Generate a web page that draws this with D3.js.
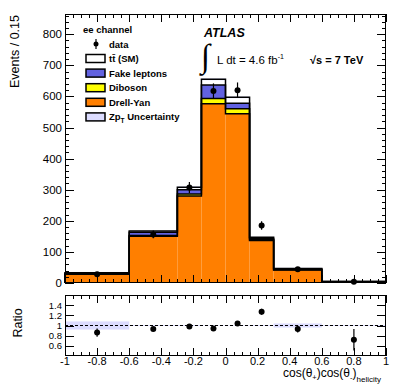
<!DOCTYPE html>
<html><head><meta charset="utf-8">
<script src="https://cdn.jsdelivr.net/npm/d3@7"></script>
<style>body{margin:0;background:#fff}svg{display:block;font-family:"Liberation Sans",Arial,sans-serif}</style>
</head><body><svg id="c" width="407" height="388"></svg>
<script>
const binEdges = [-1, -0.6, -0.3, -0.15, 0, 0.15, 0.3, 0.6, 1];
const drellYan = [28, 150, 280, 576, 544, 137, 42, 4];
const diboson  = [1, 3, 6, 17, 16, 2, 1, 0.3];
const fakeLep  = [2, 10, 14, 44, 18, 4, 2, 0.5];
const ttbar    = [2, 4, 8, 18, 19, 4, 2, 0.4];
const dataVals = [28, 156, 307, 617, 620, 185, 44, 3.8];
const ratioVals = [0.86, 0.93, 0.98, 0.94, 1.04, 1.27, 0.93, 0.72];
const ratioErrs = [0.08, 0.04, 0.03, 0.03, 0.02, 0.06, 0.07, 0.21];
const zptUnc    = [0.08, 0.01, 0.01, 0.005, 0.005, 0.01, 0.04, 0.01];
const mainYTicks = [0, 100, 200, 300, 400, 500, 600, 700, 800];
const ratioYTicks = [0.6, 0.8, 1, 1.2, 1.4];
const xTicks = [-1, -0.8, -0.6, -0.4, -0.2, 0, 0.2, 0.4, 0.6, 0.8, 1];

const svg = d3.select("#c");
const L = 65, R = 386, T1 = 14, B1 = 283, T2 = 295, B2 = 356;
const x = d3.scaleLinear().domain([-1, 1]).range([L, R]);
const y = d3.scaleLinear().domain([0, 865]).range([B1, T1]);
const yr = d3.scaleLinear().domain([0.4, 1.6]).range([B2, T2]);

const comps = [
  {v: drellYan, c: "#ff7f00"},
  {v: diboson, c: "#ffff00"},
  {v: fakeLep, c: "#6262e0"},
  {v: ttbar, c: "#ffffff"}
];
const n = drellYan.length;
let base = new Array(n).fill(0);
const levels = [];
comps.forEach(cp => {
  const top = base.map((b, i) => b + cp.v[i]);
  for (let i = 0; i < n; i++) {
    svg.append("rect").attr("x", x(binEdges[i])).attr("width", x(binEdges[i+1]) - x(binEdges[i]))
      .attr("y", y(top[i])).attr("height", y(base[i]) - y(top[i])).attr("fill", cp.c);
  }
  levels.push(top);
  base = top;
});
const total = base;
for (let i = 0; i < n; i++) {
  const e = total[i] * zptUnc[i];
  svg.append("rect").attr("x", x(binEdges[i])).attr("width", x(binEdges[i+1]) - x(binEdges[i]))
    .attr("y", y(total[i] + e)).attr("height", y(total[i] - e) - y(total[i] + e))
    .attr("fill", "#dcdcff").attr("opacity", 0.8);
}
const lineGen = d3.line().x(d => x(d[0])).y(d => y(d[1]));
levels.forEach(top => {
  const a = [[binEdges[0], 0]];
  top.forEach((v, i) => { a.push([binEdges[i], v]); a.push([binEdges[i+1], v]); });
  a.push([binEdges[n], 0]);
  svg.append("path").attr("d", lineGen(a)).attr("fill", "none").attr("stroke", "#000").attr("stroke-width", 1.5);
});

dataVals.forEach((d, i) => {
  const cx = x((binEdges[i] + binEdges[i+1]) / 2);
  const e = Math.sqrt(d);
  svg.append("line").attr("x1", cx).attr("x2", cx).attr("y1", y(Math.max(0, d - e))).attr("y2", y(d + e))
    .attr("stroke", "#000").attr("stroke-width", 1.2);
  svg.append("circle").attr("cx", cx).attr("cy", y(d)).attr("r", 3).attr("fill", "#000");
});

function ticks(scaleY, top, bottom, yMajor, yMinor, xMinor) {
  const g = svg.append("g").attr("stroke", "#000").attr("stroke-width", 1);
  xMinor.forEach(v => {
    const major = Math.abs(Math.round(v * 5) - v * 5) < 1e-6;
    const len = major ? 8 : 4;
    const px = Math.round(x(v)) + 0.5;
    g.append("line").attr("x1", px).attr("x2", px).attr("y1", bottom).attr("y2", bottom - len);
    g.append("line").attr("x1", px).attr("x2", px).attr("y1", top).attr("y2", top + len);
  });
  yMinor.forEach(v => {
    const py = Math.round(scaleY(v)) + 0.5;
    g.append("line").attr("x1", L).attr("x2", L + 4).attr("y1", py).attr("y2", py);
    g.append("line").attr("x1", R).attr("x2", R - 4).attr("y1", py).attr("y2", py);
  });
  yMajor.forEach(v => {
    const py = Math.round(scaleY(v)) + 0.5;
    g.append("line").attr("x1", L).attr("x2", L + 9).attr("y1", py).attr("y2", py);
    g.append("line").attr("x1", R).attr("x2", R - 9).attr("y1", py).attr("y2", py);
  });
  svg.append("rect").attr("x", L + 0.5).attr("y", top + 0.5).attr("width", R - L - 1).attr("height", bottom - top - 1)
    .attr("fill", "none").attr("stroke", "#000").attr("stroke-width", 1);
}
const xMinorTicks = d3.range(-1, 1.0001, 0.05);
const mainMinor = d3.range(0, 861, 20).filter(v => v % 100 !== 0);
ticks(y, T1, B1, mainYTicks, mainMinor, xMinorTicks);

for (let i = 0; i < n; i++) {
  svg.append("rect").attr("x", x(binEdges[i])).attr("width", x(binEdges[i+1]) - x(binEdges[i]))
    .attr("y", yr(1 + zptUnc[i])).attr("height", yr(1 - zptUnc[i]) - yr(1 + zptUnc[i]))
    .attr("fill", "#dcdcff");
}
svg.append("line").attr("x1", L).attr("x2", R).attr("y1", yr(1)).attr("y2", yr(1))
  .attr("stroke", "#000").attr("stroke-width", 1.2).attr("stroke-dasharray", "3,2");
ratioVals.forEach((r, i) => {
  const cx = x((binEdges[i] + binEdges[i+1]) / 2);
  svg.append("line").attr("x1", cx).attr("x2", cx).attr("y1", yr(r - ratioErrs[i])).attr("y2", yr(r + ratioErrs[i]))
    .attr("stroke", "#000").attr("stroke-width", 1.2);
  svg.append("circle").attr("cx", cx).attr("cy", yr(r)).attr("r", 3).attr("fill", "#000");
});
ticks(yr, T2, B2, ratioYTicks, [], xMinorTicks);

mainYTicks.forEach(v => svg.append("text").attr("x", L - 3).attr("y", y(v) + 4).attr("text-anchor", "end")
  .attr("font-size", 11.5).text(v));
ratioYTicks.forEach(v => svg.append("text").attr("x", L - 3).attr("y", yr(v) + 3.5).attr("text-anchor", "end")
  .attr("font-size", 9.5).text(v));
xTicks.forEach(v => svg.append("text").attr("x", x(v)).attr("y", 365).attr("text-anchor", "middle")
  .attr("font-size", 11).text(+v.toFixed(1)));

svg.append("text").attr("transform", "translate(19,15) rotate(-90)").attr("text-anchor", "end")
  .attr("font-size", 12.5).text("Events / 0.15");
svg.append("text").attr("transform", "translate(22,323) rotate(-90)").attr("text-anchor", "middle")
  .attr("font-size", 12.5).text("Ratio");
const xt = svg.append("text").attr("x", 381).attr("y", 377).attr("text-anchor", "end").attr("font-size", 12);
xt.append("tspan").text("cos(θ");
xt.append("tspan").attr("font-size", 7.5).attr("dy", 3).text("+");
xt.append("tspan").attr("dy", -3).text(")cos(θ");
xt.append("tspan").attr("font-size", 7.5).attr("dy", 3).text("-");
xt.append("tspan").attr("dy", -3).text(")");
xt.append("tspan").attr("font-size", 8).attr("dy", 5).text("helicity");

// legend
svg.append("text").attr("x", 83).attr("y", 33).attr("font-size", 9.5).attr("font-weight", "bold").text("ee channel");
svg.append("line").attr("x1", 96).attr("x2", 96).attr("y1", 39).attr("y2", 49).attr("stroke", "#000").attr("stroke-width", 1.2);
svg.append("circle").attr("cx", 96).attr("cy", 44).attr("r", 2.5).attr("fill", "#000");
svg.append("text").attr("x", 109).attr("y", 47.5).attr("font-size", 9.5).attr("font-weight", "bold").text("data");
const legItems = [
  {c: "#ffffff", t: "tt̄ (SM)"},
  {c: "#6262e0", t: "Fake leptons"},
  {c: "#ffff00", t: "Diboson"},
  {c: "#ff7f00", t: "Drell-Yan"},
  {c: "#dcdcff", t: "Zp"}
];
legItems.forEach((it, i) => {
  const cy = 58.5 + i * 14.6;
  svg.append("rect").attr("x", 86).attr("y", cy - 4).attr("width", 19).attr("height", 8)
    .attr("fill", it.c).attr("stroke", "#000").attr("stroke-width", 1.5);
  const t = svg.append("text").attr("x", 109).attr("y", cy + 3.5).attr("font-size", 9.5).attr("font-weight", "bold");
  if (i === 4) {
    t.append("tspan").text("Zp");
    t.append("tspan").attr("font-size", 6.5).attr("dy", 3).text("T");
    t.append("tspan").attr("dy", -3).text(" Uncertainty");
  } else t.text(it.t);
});

svg.append("text").attr("x", 204).attr("y", 37).attr("font-size", 12.5).attr("font-weight", "bold")
  .attr("font-style", "italic").text("ATLAS");
svg.append("text").attr("x", 201).attr("y", 67).attr("font-size", 33).attr("font-family", "DejaVu Sans").attr("font-weight", "200").text("∫");
const lt = svg.append("text").attr("x", 217).attr("y", 64).attr("font-size", 11.5);
lt.append("tspan").text("L dt = 4.6 fb");
lt.append("tspan").attr("font-size", 7).attr("dy", -5).text("-1");
const st = svg.append("text").attr("x", 310).attr("y", 64).attr("font-size", 11).attr("font-weight", "bold");
st.append("tspan").text("√s = 7 TeV");
</script></body></html>
